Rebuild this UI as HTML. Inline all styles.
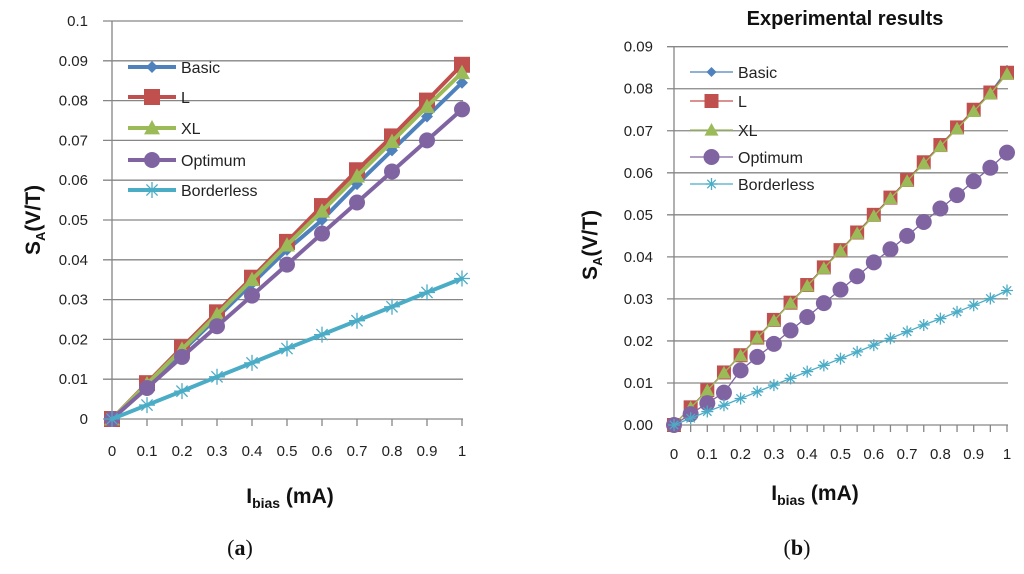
<!DOCTYPE html>
<html><head><meta charset="utf-8"><style>
body{margin:0;background:#fff;width:1024px;height:569px;overflow:hidden;position:relative}
svg{font-family:"Liberation Sans",sans-serif}
</style></head><body>
<svg id="c" width="1024" height="569"></svg>
<script>
const leftX=[0,0.1,0.2,0.3,0.4,0.5,0.6,0.7,0.8,0.9,1];
const leftBasic=[0,0.0085,0.017,0.0255,0.034,0.0425,0.050,0.059,0.0675,0.076,0.0845];
const leftL=[0,0.009,0.018,0.0268,0.0355,0.0445,0.0535,0.0625,0.071,0.080,0.089];
const leftXL=[0,0.0088,0.0175,0.0262,0.035,0.0437,0.0522,0.061,0.0697,0.0785,0.087];
const leftOpt=[0,0.0078,0.0156,0.0233,0.031,0.0388,0.0466,0.0544,0.0622,0.070,0.0778];
const leftBord=[0,0.0035,0.007,0.0106,0.0141,0.0177,0.0212,0.0247,0.0282,0.0318,0.0353];
const leftYTicks=["0","0.01","0.02","0.03","0.04","0.05","0.06","0.07","0.08","0.09","0.1"];
const leftXTicks=["0","0.1","0.2","0.3","0.4","0.5","0.6","0.7","0.8","0.9","1"];
const rightX=[0,0.05,0.1,0.15,0.2,0.25,0.3,0.35,0.4,0.45,0.5,0.55,0.6,0.65,0.7,0.75,0.8,0.85,0.9,0.95,1];
const rightBasic=[0,0.0042,0.0083,0.0125,0.0166,0.0208,0.025,0.0291,0.0333,0.0375,0.0416,0.0458,0.05,0.0541,0.0583,0.0625,0.0666,0.0708,0.075,0.0791,0.0845];
const rightL=[0,0.0042,0.0083,0.0125,0.0166,0.0208,0.025,0.0291,0.0333,0.0375,0.0416,0.0458,0.05,0.0541,0.0583,0.0625,0.0666,0.0708,0.075,0.0791,0.0838];
const rightXL=[0,0.0041,0.0082,0.0124,0.0165,0.0207,0.0248,0.029,0.0331,0.0373,0.0414,0.0456,0.0497,0.0539,0.058,0.0622,0.0663,0.0705,0.0746,0.0788,0.0835];
const rightOpt=[0,0.0026,0.0052,0.0077,0.013,0.0162,0.0193,0.0225,0.0257,0.029,0.0322,0.0354,0.0387,0.0418,0.045,0.0483,0.0515,0.0547,0.058,0.0612,0.0648];
const rightBord=[0,0.0016,0.0032,0.0047,0.0063,0.0079,0.0095,0.0111,0.0127,0.0142,0.0158,0.0174,0.019,0.0206,0.0222,0.0238,0.0253,0.0269,0.0285,0.0301,0.032];
const rightYTicks=["0.00","0.01","0.02","0.03","0.04","0.05","0.06","0.07","0.08","0.09"];
const rightXTicks=["0","0.1","0.2","0.3","0.4","0.5","0.6","0.7","0.8","0.9","1"];
const names=["Basic","L","XL","Optimum","Borderless"];
const colors=["#4F81BD","#C0504D","#9BBB59","#8064A2","#4BACC6"];
const NS="http://www.w3.org/2000/svg";
const svg=document.getElementById('c');
function el(t,a,p){const e=document.createElementNS(NS,t);for(const k in a)e.setAttribute(k,a[k]);(p||svg).appendChild(e);return e;}
function txt(s,a,p){const e=el('text',a,p);e.textContent=s;return e;}
function marker(g,k,x,y,s,c){
 let m;
 if(k===0)m=el('polygon',{points:`${x},${y-s} ${x+s},${y} ${x},${y+s} ${x-s},${y}`,fill:c},g);
 else if(k===1)m=el('rect',{x:x-s,y:y-s,width:2*s,height:2*s,fill:c},g);
 else if(k===2)m=el('polygon',{points:`${x},${y-s} ${x+s},${y+s*0.8} ${x-s},${y+s*0.8}`,fill:c},g);
 else if(k===3)m=el('circle',{cx:x,cy:y,r:s,fill:c},g);
 else{m=el('path',{d:`M${x-s},${y}H${x+s}M${x},${y-s}V${y+s}M${x-s*.7},${y-s*.7}L${x+s*.7},${y+s*.7}M${x-s*.7},${y+s*.7}L${x+s*.7},${y-s*.7}`,stroke:c,'stroke-width':1.3,fill:'none'},g);}
 
 
}
function chart(o){
 const g=el('g',{});
 
 
 const sx=v=>o.x0+(o.x1-o.x0)*v/o.xmax, sy=v=>o.y0+(o.y1-o.y0)*v/o.ymax;
 o.yt.forEach((t,i)=>{const v=o.ymax*i/(o.yt.length-1),y=sy(v);
  const l=el('line',{x1:o.gx0,x2:o.gx1,y1:y,y2:y,stroke:'#868686','stroke-width':1.3},g);
  
  const tl=txt(t,{x:o.ylx,y:y+5,'text-anchor':'end','font-size':15,fill:'#222'},g);
  });
 el('line',{x1:o.x0,x2:o.x0,y1:o.y1,y2:o.y0+8,stroke:'#868686','stroke-width':1.3},g);
 for(let i=0;i<o.nTicks;i++){const x=sx(o.xmax*i/(o.nTicks-1));
  el('line',{x1:x,x2:x,y1:o.y0,y2:o.y0+7,stroke:'#868686','stroke-width':1.3},g);}
 o.xt.forEach((t,i)=>{const x=sx(o.xmax*i/(o.xt.length-1));
  const tl=txt(t,{x:x,y:o.xly,'text-anchor':'middle','font-size':15,fill:'#222'},g);
  });
 o.series.forEach((d,k)=>{
  const pts=d.map((v,i)=>sx(o.xs[i])+','+sy(v)).join(' ');
  const pl=el('polyline',{points:pts,fill:'none',stroke:colors[k],'stroke-width':o.lw},g);
  
  d.forEach((v,i)=>marker(g,k,sx(o.xs[i]),sy(v),o.ms[k],colors[k]));
  const ly=o.legY[k];
  const le=el('g',{},g);
  
  el('line',{x1:o.legX0,x2:o.legX1,y1:ly,y2:ly,stroke:colors[k],'stroke-width':o.lw},le);
  marker(le,k,(o.legX0+o.legX1)/2,ly,o.ms[k],colors[k]);
  txt(names[k],{x:o.legX1+5,y:ly+6,'font-size':16,fill:'#222'},le);
 });
}
chart({name:'chart-a',x0:112,x1:462,y0:419,y1:21,xmax:1,ymax:0.1,gx0:103,gx1:463,ylx:88,xly:456,nTicks:11,
 xs:leftX,series:[leftBasic,leftL,leftXL,leftOpt,leftBord],yt:leftYTicks,xt:leftXTicks,lw:4,ms:[6,8,8,8,8],
 legX0:128,legX1:176,legY:[67,97,128,160,190]});
chart({name:'chart-b',x0:674,x1:1007,y0:425,y1:46.7,xmax:1,ymax:0.09,gx0:667,gx1:1008,ylx:653,xly:459,nTicks:21,
 xs:rightX,series:[rightBasic,rightL,rightXL,rightOpt,rightBord],yt:rightYTicks,xt:rightXTicks,lw:1.3,ms:[5,7,7,8,6],
 legX0:690,legX1:733,legY:[72,101,130,157,184]});
</script>
<svg width="1024" height="569" style="position:absolute;left:0;top:0">
 <g font-family="Liberation Sans,sans-serif" font-weight="bold" font-size="21" fill="#111">
  <text x="845" y="25" text-anchor="middle" font-size="20">Experimental results</text>
  <text transform="translate(40,220) rotate(-90)" text-anchor="middle">S<tspan font-size="13" dy="5">A</tspan><tspan dy="-5">(V/T)</tspan></text>
  <text transform="translate(597,245) rotate(-90)" text-anchor="middle">S<tspan font-size="13" dy="5">A</tspan><tspan dy="-5">(V/T)</tspan></text>
  <text x="290" y="503" text-anchor="middle">I<tspan font-size="14" dy="5">bias</tspan><tspan dy="-5"> (mA)</tspan></text>
  <text x="815" y="500" text-anchor="middle">I<tspan font-size="14" dy="5">bias</tspan><tspan dy="-5"> (mA)</tspan></text>
 </g>
 <g font-family="Liberation Serif,serif" font-size="22" fill="#111">
  <text x="240" y="555" text-anchor="middle">(<tspan font-weight="bold">a</tspan>)</text>
  <text x="797" y="555" text-anchor="middle">(<tspan font-weight="bold">b</tspan>)</text>
 </g>
</svg>
</body></html>
